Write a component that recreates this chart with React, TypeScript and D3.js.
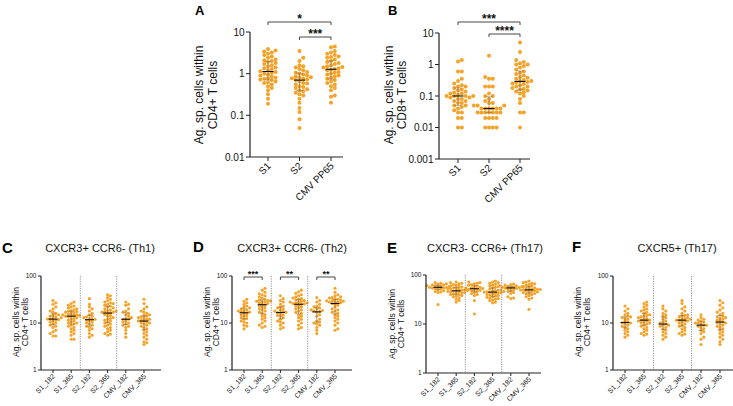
import React from "react";
import * as d3 from "d3";

const DOT = "#F5A229";
const FONT = "'Liberation Sans', Arial, Helvetica, sans-serif";

const catsTop = ["S1", "S2", "CMV PP65"];
const catsBottom = ["S1_182", "S1_365", "S2_182", "S2_365", "CMV_182", "CMV_365"];
const ticksA = [0.01, 0.1, 1, 10];
const ticksB = [0.001, 0.01, 0.1, 1, 10];
const ticksBottom = [1, 10, 100];

// Panel A (CD4+)
const aS1 = [3.9, 3.6, 3.4, 3.2, 3.0, 2.8, 2.6, 2.4, 2.2, 2.1, 2.0, 1.9, 1.8, 1.7, 1.6, 1.5, 1.4, 1.35, 1.3, 1.2, 1.15, 1.1, 1.05, 1.0, 0.95, 0.9, 0.85, 0.8, 0.78, 0.75, 0.72, 0.7, 0.65, 0.62, 0.6, 0.55, 0.5, 0.45, 0.4, 0.32, 0.25, 0.19];
const aS2 = [3.5, 2.4, 2.0, 1.6, 1.5, 1.4, 1.3, 1.2, 1.1, 1.05, 1.0, 0.95, 0.9, 0.85, 0.82, 0.8, 0.78, 0.75, 0.72, 0.7, 0.65, 0.6, 0.58, 0.55, 0.5, 0.48, 0.45, 0.42, 0.4, 0.38, 0.35, 0.32, 0.3, 0.25, 0.2, 0.15, 0.12, 0.08, 0.05];
const aCMV = [4.5, 4.3, 3.5, 3.2, 3.0, 2.8, 2.6, 2.5, 2.4, 2.2, 2.0, 1.9, 1.8, 1.7, 1.6, 1.5, 1.45, 1.4, 1.35, 1.3, 1.25, 1.2, 1.1, 1.05, 1.0, 0.95, 0.9, 0.85, 0.8, 0.75, 0.7, 0.65, 0.6, 0.55, 0.5, 0.45, 0.4, 0.3, 0.28, 0.2];

// Panel B (CD8+)
const bS1 = [1.4, 1.25, 0.6, 0.6, 0.35, 0.3, 0.25, 0.22, 0.2, 0.2, 0.18, 0.16, 0.15, 0.14, 0.13, 0.12, 0.12, 0.11, 0.1, 0.1, 0.1, 0.1, 0.09, 0.09, 0.08, 0.08, 0.07, 0.07, 0.06, 0.06, 0.05, 0.05, 0.045, 0.04, 0.035, 0.03, 0.03, 0.02, 0.02, 0.01, 0.01];
const bS2 = [1.9, 0.4, 0.35, 0.35, 0.2, 0.2, 0.2, 0.12, 0.1, 0.1, 0.08, 0.07, 0.06, 0.06, 0.05, 0.05, 0.05, 0.04, 0.04, 0.04, 0.04, 0.04, 0.04, 0.03, 0.03, 0.03, 0.03, 0.03, 0.03, 0.03, 0.02, 0.02, 0.02, 0.02, 0.01, 0.01, 0.01, 0.01];
const bCMV = [5, 2.5, 1.4, 1.2, 1.1, 1.0, 1.0, 0.9, 0.8, 0.7, 0.6, 0.55, 0.5, 0.45, 0.4, 0.38, 0.35, 0.32, 0.3, 0.3, 0.28, 0.27, 0.25, 0.24, 0.22, 0.2, 0.2, 0.18, 0.17, 0.16, 0.15, 0.14, 0.13, 0.12, 0.1, 0.08, 0.06, 0.03, 0.03, 0.01];

// Panel C (Th1)
const cS1_182 = [30, 27, 25, 22, 20, 18, 17, 16, 15, 14.5, 14, 13.5, 13, 12.5, 12.2, 12, 11.8, 11.5, 11, 10.5, 10, 9.5, 9, 8.5, 8, 7, 6.5, 6, 5.3, 5.3];
const cS1_365 = [28, 26, 24, 23, 22, 21, 20, 19, 18.5, 18, 17.5, 17, 16.5, 16, 15.5, 15, 15, 14.5, 14.5, 14, 14, 13.5, 13, 12.5, 12, 11.5, 11, 10.5, 10, 10, 9.5, 9, 8.5, 8, 7.5, 7, 6.5, 6, 5.5, 4.5, 4.5];
const cS2_182 = [33, 25, 22, 20, 18, 16, 15, 14, 13.5, 13, 12.5, 12, 12, 11.5, 11, 10.5, 10, 9.5, 9, 8.5, 8, 7.5, 7, 6, 5.5, 5];
const cS2_365 = [40, 38, 35, 32, 30, 28, 27, 26, 25, 24, 23, 22, 21, 20, 19, 18.5, 18, 17.5, 17, 17, 16.5, 16, 15, 14.5, 14, 13, 12.5, 12, 11.5, 11, 10.5, 10, 9.5, 9, 8.5, 8, 7.5, 7, 6.5, 6, 5.8, 5.5];
const cCMV_182 = [28, 25, 24, 20, 18, 17, 16, 15, 14, 13, 12.5, 12, 12, 11, 10.5, 10, 9.5, 9, 8.5, 8, 7, 6, 5];
const cCMV_365 = [32, 26, 22, 20, 18, 17, 16, 15, 14.5, 14, 13.5, 13, 12.5, 12, 12, 11.5, 11, 11, 10.5, 10, 10, 9.5, 9, 8.5, 8, 7.5, 7, 6.5, 6, 5.5, 5, 4.5, 4, 3.8, 3.5];

// Panel D (Th2)
const dS1_182 = [32, 29, 27, 25, 23, 22, 21, 20, 19, 18.5, 18, 17.5, 17, 16.5, 16, 15, 14.5, 14, 13, 12.5, 12, 11, 10.5, 10, 9, 8.5, 7.5];
const dS1_365 = [55, 50, 45, 42, 40, 38, 36, 34, 32, 31, 30, 29.5, 29, 28.5, 28, 27, 26, 25, 24, 23, 22, 21, 20, 19, 18, 17, 16, 15, 14, 13, 12, 11, 10, 9, 8.5, 8];
const dS2_182 = [38, 33, 30, 28, 25, 23, 22, 21, 20, 19, 18, 17.5, 17, 16.5, 16, 15, 14.5, 14, 13, 12, 11, 10.5, 10, 9, 8, 7.5];
const dS2_365 = [50, 46, 43, 40, 38, 36, 34, 33, 32, 31, 30, 29, 28, 27.5, 27, 26.5, 26, 25.5, 25, 24, 23, 22, 21, 20, 19, 18, 17, 16, 15, 14, 13, 12, 11, 10, 9, 8, 7.5];
const dCMV_182 = [35, 30, 28, 25, 23, 22, 21, 20, 19, 18.5, 18, 17.5, 17, 15, 14, 12, 11, 10.5, 10, 9.5, 9, 8, 7, 6];
const dCMV_365 = [55, 45, 40, 38, 36, 35, 34, 33, 32, 31, 30, 29.5, 29, 28.5, 28, 27.5, 27, 26, 25, 24, 22, 20, 19, 18, 17, 16, 15, 14, 13, 12, 11, 10, 9, 7.5, 7];

// Panel E (Th17)
const eS1_182 = [70, 68, 66, 65, 63, 62, 61, 60, 59, 58, 57, 56, 55.5, 55, 54, 53, 52, 50, 48, 46, 45, 44, 25];
const eS1_365 = [72, 70, 68, 66, 64, 62, 60, 58, 57, 55, 54, 53, 52, 51, 50, 49, 48, 47.5, 47, 46, 45.5, 45, 44, 43, 42, 41, 40, 39, 38, 37, 36, 34, 32, 30, 28];
const eS2_182 = [72, 70, 68, 66, 64, 62, 60, 58, 56, 55, 54, 53, 52, 51, 50, 49, 48, 46, 44, 42, 40, 38, 30, 16];
const eS2_365 = [75, 72, 70, 68, 65, 62, 60, 58, 56, 54, 52, 50, 49, 48, 47, 46, 45.5, 45, 44.5, 44, 43, 42, 41, 40, 39, 38, 37, 36, 35, 34, 33, 32, 31, 30, 28, 27];
const eCMV_182 = [65, 64, 62, 61, 60, 59, 58, 57, 56, 55.5, 55, 54, 53, 52, 50, 48, 46, 44, 42, 36, 34, 33];
const eCMV_365 = [75, 72, 70, 68, 66, 64, 62, 60, 58, 56, 55, 54, 52, 51, 50.5, 50, 49.5, 49, 48, 47, 46, 45, 44, 43, 42, 41, 40, 38, 36, 34, 32, 20];

// Panel F (CXCR5+)
const fS1_182 = [23, 20, 18, 16, 15, 14, 13.5, 13, 12.5, 12, 11, 10.5, 10, 10, 9.5, 9, 8.5, 8, 7.5, 7, 6.5, 6, 5.5, 5];
const fS1_365 = [28, 26, 24, 22, 20, 19, 18, 17, 16, 15, 14.5, 14, 13.5, 13, 12.5, 12, 11.5, 11.5, 11, 11, 10.5, 10, 10, 9.5, 9, 8.5, 8, 7.5, 7, 6.5, 6, 5.8, 5.5];
const fS2_182 = [23, 20, 18, 16, 15, 14, 13, 12, 11, 10.5, 10, 9.5, 9, 9, 8.5, 8, 7.5, 7, 6.5, 6, 5.5, 5, 4.5];
const fS2_365 = [30, 26, 22, 20, 18, 16, 15, 14.5, 14, 13.5, 13, 12.5, 12, 12, 11.5, 11.5, 11, 11, 10.5, 10, 9.5, 9, 8.5, 8, 7.5, 7, 6.5, 6, 5.8, 5.5];
const fCMV_182 = [15, 13, 12, 11.5, 11, 10.5, 10, 10, 9.5, 9, 9, 8.5, 8, 7.5, 7, 6.5, 6, 5, 4.5, 3.5];
const fCMV_365 = [30, 27, 24, 21, 19, 17, 16, 15, 14, 13.5, 13, 12.5, 12, 11.5, 11, 10.5, 10, 10, 9.5, 9, 8.5, 8, 7.5, 7, 6.5, 6, 5.5, 5, 4.5, 4, 3.5];

type Pt = { x: number; y: number };

function swarm(values: number[], y: (v: number) => number, cx: number, step: number, minD: number): Pt[] {
  const sorted = [...values].sort((a, b) => a - b);
  const placed: Pt[] = [];
  for (const v of sorted) {
    const py = y(v);
    let px = cx;
    for (let i = 0; i < 80; i++) {
      const off = i === 0 ? 0 : i % 2 === 1 ? Math.ceil(i / 2) : -Math.ceil(i / 2);
      const cand = cx + off * step;
      if (!placed.some((p) => (p.x - cand) ** 2 + (p.y - py) ** 2 < minD * minD)) {
        px = cand;
        break;
      }
    }
    placed.push({ x: px, y: py });
  }
  return placed;
}

type Bracket = { from: number; to: number; y: number; label: string };

type PanelProps = {
  axisX: number;
  xEnd: number;
  yTop: number;
  yBot: number;
  domain: [number, number];
  ticks: number[];
  cats: string[];
  catRange: [number, number];
  groups: number[][];
  r: number;
  step: number;
  minD: number;
  tickFont: number;
  catFont: number;
  medW: number;
  capW: number;
  seps?: boolean;
  brackets?: Bracket[];
  starFont: number;
  tickLen: number;
};

function Panel(p: PanelProps) {
  const y = d3.scaleLog().domain(p.domain).range([p.yBot, p.yTop]);
  const x = d3.scalePoint<string>().domain(p.cats).range(p.catRange);
  const fmt = d3.format("~g");
  const tickLen = p.tickLen;
  return (
    <g>
      {p.groups.map((vals, gi) => {
        const cx = x(p.cats[gi]) as number;
        const pts = swarm(vals, (v) => y(v), cx, p.step, p.minD);
        const q1 = d3.quantile(vals, 0.25) as number;
        const q3 = d3.quantile(vals, 0.75) as number;
        const med = d3.median(vals) as number;
        return (
          <g key={gi}>
            {pts.map((pt, i) => (
              <circle key={i} cx={pt.x} cy={pt.y} r={p.r} fill={DOT} />
            ))}
            <g stroke="#555" strokeOpacity={0.5} strokeWidth={0.8}>
              <line x1={cx} x2={cx} y1={y(q1)} y2={y(q3)} />
              <line x1={cx - p.capW / 2} x2={cx + p.capW / 2} y1={y(q1)} y2={y(q1)} />
              <line x1={cx - p.capW / 2} x2={cx + p.capW / 2} y1={y(q3)} y2={y(q3)} />
            </g>
            <line x1={cx - p.medW / 2} x2={cx + p.medW / 2} y1={y(med)} y2={y(med)} stroke="#111" strokeWidth={1.1} />
          </g>
        );
      })}
      {p.seps &&
        [1, 3].map((i) => {
          const xs = ((x(p.cats[i]) as number) + (x(p.cats[i + 1]) as number)) / 2;
          return (
            <line key={i} x1={xs} x2={xs} y1={p.yTop} y2={p.yBot} stroke="#777" strokeWidth={0.8} strokeDasharray="1.2,1.2" />
          );
        })}
      <line x1={p.axisX} x2={p.axisX} y1={p.yTop} y2={p.yBot} stroke="#222" strokeWidth={1.2} />
      <line x1={p.axisX} x2={p.xEnd} y1={p.yBot} y2={p.yBot} stroke="#222" strokeWidth={1.2} />
      {p.ticks.map((t) => (
        <g key={t}>
          <line x1={p.axisX - tickLen} x2={p.axisX} y1={y(t)} y2={y(t)} stroke="#222" strokeWidth={1} />
          <text x={p.axisX - tickLen - 1.5} y={y(t)} dy="0.35em" textAnchor="end" fontSize={p.tickFont} fill="#111" fontFamily={FONT}>
            {fmt(t)}
          </text>
        </g>
      ))}
      {p.cats.map((c) => {
        const cx = x(c) as number;
        return (
          <g key={c}>
            <line x1={cx} x2={cx} y1={p.yBot} y2={p.yBot + tickLen} stroke="#222" strokeWidth={1} />
            <text
              transform={`translate(${cx + p.catFont * 0.35},${p.yBot + tickLen + p.catFont * 0.55}) rotate(-45)`}
              textAnchor="end"
              fontSize={p.catFont}
              fill="#111"
              fontFamily={FONT}
            >
              {c}
            </text>
          </g>
        );
      })}
      {(p.brackets || []).map((b, i) => {
        const x1 = x(p.cats[b.from]) as number;
        const x2 = x(p.cats[b.to]) as number;
        return (
          <g key={i}>
            <path d={`M${x1},${b.y + 3}V${b.y}H${x2}V${b.y + 3}`} fill="none" stroke="#333" strokeWidth={0.9} />
            <text x={(x1 + x2) / 2} y={b.y + p.starFont * 0.05} textAnchor="middle" fontSize={p.starFont} fill="#111" fontFamily={FONT} fontWeight="bold">
              {b.label}
            </text>
          </g>
        );
      })}
    </g>
  );
}

function YTitle({ x1, x2, yc, size, l2 }: { x1: number; x2: number; yc: number; size: number; l2: string }) {
  return (
    <g fontFamily={FONT} fontSize={size} fill="#111" textAnchor="middle">
      <text transform={`translate(${x1},${yc}) rotate(-90)`}>Ag. sp. cells within</text>
      <text transform={`translate(${x2},${yc}) rotate(-90)`}>{l2}</text>
    </g>
  );
}

function Letter({ x, y, t, size }: { x: number; y: number; t: string; size: number }) {
  return (
    <text x={x} y={y} fontFamily={FONT} fontWeight="bold" fontSize={size} fill="#000">
      {t}
    </text>
  );
}

function Title({ x, y, t }: { x: number; y: number; t: string }) {
  return (
    <text x={x} y={y} fontFamily={FONT} fontSize={11} fill="#111" textAnchor="middle">
      {t}
    </text>
  );
}

export default function App() {
  const topCommon = {
    r: 2.0,
    step: 3.8,
    minD: 3.5,
    tickFont: 10,
    catFont: 10,
    medW: 11,
    capW: 7,
    starFont: 12,
    tickLen: 4,
    cats: catsTop,
  };
  const bottomCommon = {
    yTop: 276,
    yBot: 370,
    domain: [1, 100] as [number, number],
    ticks: ticksBottom,
    cats: catsBottom,
    r: 1.55,
    step: 2.8,
    minD: 2.6,
    tickFont: 6.5,
    catFont: 7,
    medW: 9,
    capW: 5,
    seps: true,
    starFont: 9,
    tickLen: 3,
  };
  return (
    <svg width={733} height={406} style={{ position: "absolute", left: 0, top: 0, background: "#fff" }}>
      <Letter x={195} y={15} t="A" size={13} />
      <YTitle x1={203} x2={217} yc={95} size={12} l2="CD4+ T cells" />
      <Panel
        {...topCommon}
        axisX={250}
        xEnd={343}
        yTop={32}
        yBot={157}
        domain={[0.01, 10]}
        ticks={ticksA}
        catRange={[268, 331]}
        groups={[aS1, aS2, aCMV]}
        brackets={[
          { from: 0, to: 2, y: 22, label: "*" },
          { from: 1, to: 2, y: 37, label: "***" },
        ]}
      />
      <Letter x={388} y={15} t="B" size={13} />
      <YTitle x1={393} x2={406} yc={95} size={12} l2="CD8+ T cells" />
      <Panel
        {...topCommon}
        axisX={439}
        xEnd={530}
        yTop={33}
        yBot={159}
        domain={[0.001, 10]}
        ticks={ticksB}
        catRange={[458, 520]}
        groups={[bS1, bS2, bCMV]}
        brackets={[
          { from: 0, to: 2, y: 22, label: "***" },
          { from: 1, to: 2, y: 34, label: "****" },
        ]}
      />

      <Letter x={2} y={253} t="C" size={15} />
      <Title x={100} y={252} t="CXCR3+ CCR6- (Th1)" />
      <YTitle x1={19} x2={28} yc={322} size={8.5} l2="CD4+ T cells" />
      <Panel {...bottomCommon} axisX={41} xEnd={161} catRange={[53, 144]} groups={[cS1_182, cS1_365, cS2_182, cS2_365, cCMV_182, cCMV_365]} />

      <Letter x={193} y={252} t="D" size={15} />
      <Title x={292} y={252} t="CXCR3+ CCR6- (Th2)" />
      <YTitle x1={210} x2={219} yc={322} size={8.5} l2="CD4+ T cells" />
      <Panel
        {...bottomCommon}
        axisX={232}
        xEnd={352}
        catRange={[244, 335]}
        groups={[dS1_182, dS1_365, dS2_182, dS2_365, dCMV_182, dCMV_365]}
        brackets={[
          { from: 0, to: 1, y: 277, label: "***" },
          { from: 2, to: 3, y: 277, label: "**" },
          { from: 4, to: 5, y: 277, label: "**" },
        ]}
      />

      <Letter x={387} y={253} t="E" size={15} />
      <Title x={485} y={252} t="CXCR3- CCR6+ (Th17)" />
      <YTitle x1={395} x2={404} yc={324} size={8.5} l2="CD4+ T cells" />
      <Panel {...bottomCommon} yTop={275} yBot={373} axisX={426} xEnd={541} catRange={[438, 529]} groups={[eS1_182, eS1_365, eS2_182, eS2_365, eCMV_182, eCMV_365]} />

      <Letter x={572} y={252} t="F" size={15} />
      <Title x={677} y={252} t="CXCR5+ (Th17)" />
      <YTitle x1={581} x2={590} yc={322} size={8.5} l2="CD4+ T cells" />
      <Panel {...bottomCommon} axisX={613} xEnd={733} catRange={[625, 720]} groups={[fS1_182, fS1_365, fS2_182, fS2_365, fCMV_182, fCMV_365]} />
    </svg>
  );
}
